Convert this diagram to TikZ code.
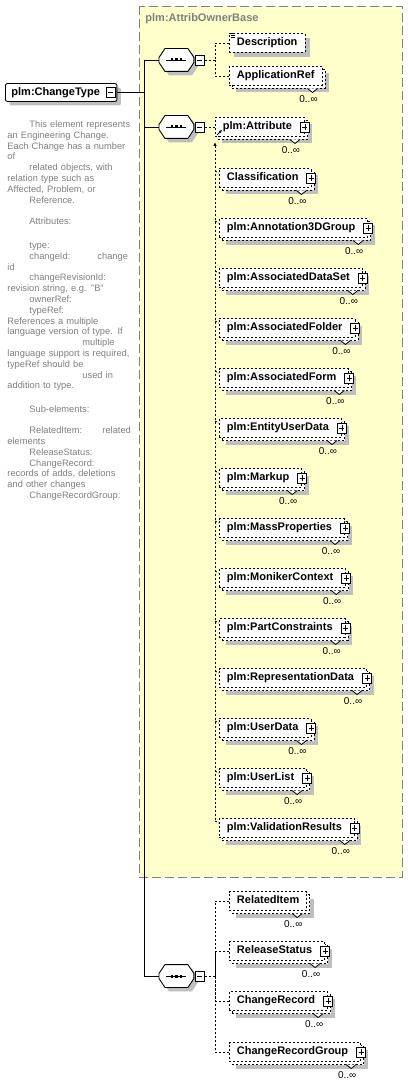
\documentclass[tikz,border=0pt]{standalone}
\usepackage{fontspec}
\setmainfont{Liberation Sans}
\usetikzlibrary{arrows.meta,calc,shadows}
\definecolor{baseyellow}{HTML}{FFFFCC}
\definecolor{basegray}{HTML}{808080}
\tikzset{
  conn/.style={dash pattern=on 2pt off 2pt},
  elem/.style={draw, conn, fill=white, anchor=west,
    font=\fontsize{11}{13}\selectfont\bfseries, minimum height=19pt,
    inner xsep=7.5pt, inner ysep=0pt, text height=8pt, text depth=2.5pt},
  single/.style={drop shadow={shadow xshift=5pt, shadow yshift=-5pt, fill=black!25, opacity=1}},
  multi/.style={drop shadow={shadow xshift=7pt, shadow yshift=-7pt, fill=black!25, opacity=1},
    copy shadow={shadow xshift=3pt, shadow yshift=-3pt, draw=black, fill=white}},
  root/.style={draw, solid, fill=white, rounded corners=2pt, anchor=west,
    font=\fontsize{11}{13}\selectfont\bfseries, minimum height=18pt,
    inner xsep=6pt, inner ysep=0pt, text height=8pt, text depth=2.5pt,
    drop shadow={shadow xshift=4pt, shadow yshift=-4pt, fill=black!25, opacity=1}},
  seq/.style={anchor=west, minimum width=34pt, minimum height=22pt, inner sep=0pt},
  seqshape/.style={draw, solid, fill=white,
    drop shadow={shadow xshift=4pt, shadow yshift=-4pt, fill=black!25, opacity=1}},
  minusbox/.style={draw, solid, fill=white, minimum width=9pt, minimum height=10pt, inner sep=0pt,
    path picture={\draw ([xshift=2pt]path picture bounding box.west) -- ([xshift=-2pt]path picture bounding box.east);}},
  plusbox/.style={minusbox,
    path picture={\draw ([xshift=2pt]path picture bounding box.west) -- ([xshift=-2pt]path picture bounding box.east);
      \draw ([yshift=-2pt]path picture bounding box.north) -- ([yshift=2pt]path picture bounding box.south);}},
  notch/.style={draw=black, solid, fill=white, line width=0.8pt},
  mult/.style={font=\fontsize{10}{12}\selectfont, inner sep=0pt},
  basebox/.style={draw=basegray, fill=baseyellow, dash pattern=on 9pt off 4pt},
  basetitle/.style={font=\fontsize{11}{13}\selectfont\bfseries, text=basegray, inner sep=0pt, anchor=west},
  doc/.style={font=\fontsize{9.3}{10.8}\selectfont, text=black!50, text width=150pt,
    align=left, inner sep=0pt, anchor=base west}
}
\begin{document}
\begin{tikzpicture}[x=1pt, y=-1pt, line width=0.9pt]
  \useasboundingbox[fill=white] (0,0) rectangle (407,1083);
  % base type
  \draw[basebox] (139,6) rectangle (402,877);
  \node[basetitle] (btitle) at (145,19) {plm:AttribOwnerBase};

  % root element and its documentation
  \node[root] (root) at (5,92.5) {plm:ChangeType\kern11pt};
  \node[minusbox] (root-mi) at ([xshift=-6.5pt]root.east) {};
  \node[doc] (doc) at (7,127.5) {%
    \hspace*{22pt}This element represents\\
    an Engineering Change.\\
    Each Change has a number\\
    of\\
    \hspace*{22pt}related objects, with\\
    relation type such as\\
    Affected, Problem, or\\
    \hspace*{22pt}Reference.\\[10.4pt]
    \hspace*{22pt}Attributes:\\[13.5pt]
    \hspace*{22pt}type:\\
    \hspace*{22pt}\makebox[68pt][l]{changeId:}change\\
    id\\
    \hspace*{22pt}changeRevisionId:\\
    revision string, e.g. "B"\\
    \hspace*{22pt}ownerRef:\\
    \hspace*{22pt}typeRef:\\
    References a multiple\\
    language version of type. If\\
    \hspace*{75pt}multiple\\
    language support is required,\\
    typeRef should be\\
    \hspace*{75pt}used in\\
    addition to type.\\[13pt]
    \hspace*{22pt}Sub-elements:\\[10.2pt]
    \hspace*{22pt}\makebox[73pt][l]{RelatedItem:}related\\
    elements\\
    \hspace*{22pt}ReleaseStatus:\\
    \hspace*{22pt}ChangeRecord:\\
    records of adds, deletions\\
    and other changes\\
    \hspace*{22pt}ChangeRecordGroup:};

  % sequences
  \node[seq] (seq1) at (159,60) {};
  \node[seq] (seq2) at (159,127) {};
  \node[seq] (seq3) at (159,976) {};
  \foreach \s in {seq1,seq2,seq3} {
    \draw[seqshape] ($(\s.west)+(0,-2.5)$) -- ($(\s.north west)+(6,0)$)
      -- ($(\s.north east)+(-6,0)$) -- ($(\s.east)+(0,-2.5)$) -- ($(\s.east)+(0,2.5)$)
      -- ($(\s.south east)+(-6,0)$) -- ($(\s.south west)+(6,0)$) -- ($(\s.west)+(0,2.5)$) -- cycle;
    \draw ($(\s.center)+(-10,0)$) -- ($(\s.center)+(10,0)$);
    \foreach \d in {-4.5,0,4.5}
      \fill ($(\s.center)+(\d,0)$) +(-1.4,-1.5) rectangle +(1.4,1.5);
    \node[minusbox, anchor=west] (\s-mi) at ([xshift=1pt]\s.east) {};
  }
  \coordinate (trunk) at (144,92.5);
  \draw (root.east) -- (trunk);
  \draw (trunk |- seq1.west) -- (trunk |- seq3.west);
  \foreach \s in {seq1,seq2,seq3}
    \draw (trunk |- \s.west) -- (\s.west);

  % first sequence
  \node[elem, single] (desc) at (229,43) {Description};
  \node[elem, multi] (appref) at (229,76) {ApplicationRef};
  \foreach \k in {0.8,2.8,4.8}
    \draw[line width=0.7pt] ($(desc.north west)+(1.5,\k)$) -- ++(4.5,0);
  \coordinate (j1) at (215,60);
  \draw[conn] (seq1-mi.east) -- (j1);
  \draw[conn] (desc.west) -| (j1);
  \draw[conn] (appref.west) -| (j1);

  % attribute and its substitution group
  \node[elem, multi] (attr) at (215,127) {plm:Attribute\kern5pt};
  \draw[conn] (seq2-mi.east) -- (attr.west);
  \foreach \n/\t [count=\i] in {classif/Classification, annot/plm:Annotation3DGroup,
      dataset/plm:AssociatedDataSet, folder/plm:AssociatedFolder, form/plm:AssociatedForm,
      entity/plm:EntityUserData, markup/plm:Markup, massprop/plm:MassProperties,
      moniker/plm:MonikerContext, partcons/plm:PartConstraints, repdata/plm:RepresentationData,
      userdata/plm:UserData, userlist/plm:UserList, valid/plm:ValidationResults}
    \node[elem, multi] (\n) at (219,128+50*\i) {\t\kern5pt};
  \coordinate (sub) at (215,142);
  \draw[conn, {Latex[length=4pt,width=3.5pt]}-] (sub) -- ($(sub |- valid.north)+(0,3)$);
  \foreach \n in {classif,annot,dataset,folder,form,entity,markup,massprop,moniker,partcons,repdata,userdata,userlist,valid}
    \draw[conn] ($(sub |- \n.north)+(0,3)$) -- ($(\n.north west)+(0,5)$);
  \draw[-{Latex[length=3pt,width=3pt]}] ($(attr.south west)+(2,-2)$) -- ++(5,-5);

  % last sequence
  \node[elem, multi] (relitem) at (229,901) {RelatedItem};
  \node[elem, multi] (relstat) at (229,951) {ReleaseStatus\kern5pt};
  \node[elem, multi] (chgrec) at (229,1001) {ChangeRecord\kern5pt};
  \node[elem, multi] (chgrecgrp) at (229,1052) {ChangeRecordGroup\kern5pt};
  \coordinate (j3) at (215,976);
  \draw[conn] (seq3-mi.east) -- (j3);
  \foreach \n in {relitem,relstat,chgrec,chgrecgrp}
    \draw[conn] (\n.west) -| (j3);

  % expand boxes and occurrences
  \foreach \n in {attr,classif,annot,dataset,folder,form,entity,markup,massprop,moniker,partcons,repdata,userdata,userlist,valid,relstat,chgrec,chgrecgrp}
    \node[plusbox] (\n-pl) at (\n.east) {};
  \foreach \n in {appref,attr,classif,annot,dataset,folder,form,entity,markup,massprop,moniker,partcons,repdata,userdata,userlist,valid,relitem,relstat,chgrec,chgrecgrp} {
    \draw[notch] ($(\n.east)+(-15,12.5)$) -- ++(5,4) -- ++(5,-4);
    \node[mult] (\n-m) at ($(\n.east)+(-14,23)$) {0..∞};
  }
\end{tikzpicture}
\end{document}
